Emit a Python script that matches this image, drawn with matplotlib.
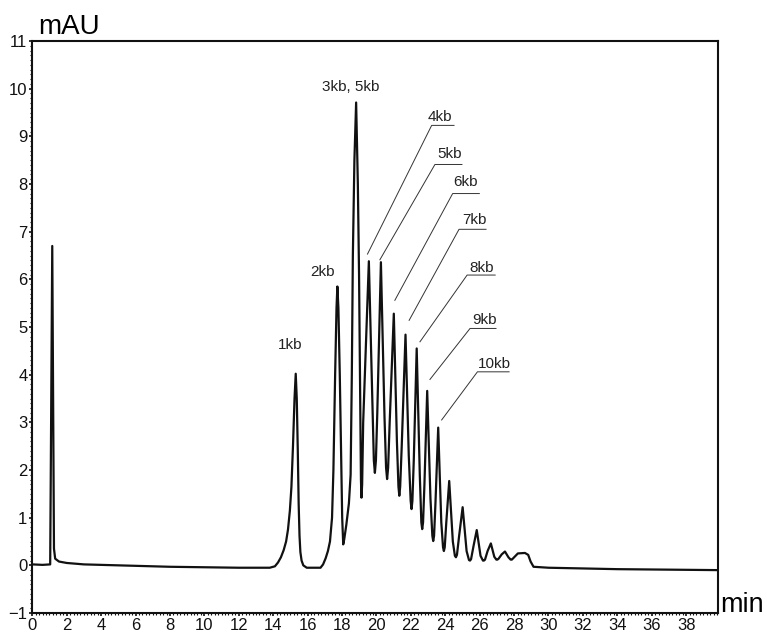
import numpy as np
import matplotlib
matplotlib.use('Agg')
import matplotlib.pyplot as plt
from matplotlib.ticker import MultipleLocator

plt.rcParams['font.family'] = ['Liberation Sans', 'DejaVu Sans']

# Chromatogram trace (min, mAU)
time_min = [0.0, 0.6, 1.04, 1.16, 1.26, 1.33, 1.55, 2.0, 3.0, 5.0, 8.0, 12.0,
            # 1kb
            13.8, 14.1, 14.28, 14.45, 14.61, 14.75, 14.86, 14.97, 15.06, 15.15, 15.24,
            15.31, 15.37, 15.43, 15.48, 15.53, 15.58, 15.65, 15.75, 15.95,
            # 2kb
            16.75, 16.90, 17.05, 17.18, 17.30, 17.42, 17.50, 17.60, 17.68, 17.73,
            17.79, 17.87, 17.96, 18.01, 18.07, 18.13, 18.25, 18.40,
            # 3kb, 5kb
            18.50, 18.57, 18.63, 18.72, 18.82, 18.92, 18.99, 19.06, 19.10, 19.13,
            19.17, 19.23,
            # 4kb .. 10kb and the smaller ladder peaks
            19.56, 19.77, 19.85, 19.91, 19.97, 20.05,
            20.26, 20.47, 20.56, 20.62, 20.68, 20.77,
            21.01, 21.19, 21.28, 21.33, 21.38, 21.47,
            21.69, 21.88, 21.99, 22.04, 22.09, 22.17,
            22.34, 22.52, 22.61, 22.66, 22.71, 22.79,
            22.95, 23.14, 23.25, 23.30, 23.35, 23.43,
            23.59, 23.77, 23.87, 23.92, 23.97, 24.06,
            24.23, 24.44, 24.56, 24.62, 24.68, 24.80,
            25.01, 25.24, 25.38, 25.44, 25.50, 25.64,
            25.83, 26.05, 26.19, 26.25, 26.31, 26.46,
            26.65, 26.85, 26.97, 27.03, 27.10, 27.28,
            27.47, 27.67, 27.80, 27.87, 27.95,
            28.22, 28.63, 28.82, 28.96, 29.13,
            30.0, 34.0, 39.8]
absorbance = [0.02, 0.01, 0.02, 6.70, 0.35, 0.14, 0.08, 0.05, 0.02, 0.0, -0.03, -0.05,
              -0.05, -0.02, 0.06, 0.17, 0.32, 0.50, 0.75, 1.15, 1.65, 2.50, 3.50,
              4.02, 3.50, 2.40, 1.30, 0.62, 0.28, 0.10, 0.0, -0.05,
              -0.05, 0.02, 0.15, 0.30, 0.50, 1.00, 2.00, 4.00, 5.40, 5.85,
              5.40, 4.00, 2.00, 1.00, 0.44, 0.55, 0.85, 1.30,
              1.90, 4.00, 6.50, 8.50, 9.71, 8.00, 6.09, 3.20, 1.80, 1.42,
              1.70, 3.00,
              6.38, 3.30, 2.20, 1.94, 2.20, 3.20,
              6.36, 3.10, 2.05, 1.81, 2.05, 3.00,
              5.28, 2.60, 1.65, 1.46, 1.65, 2.50,
              4.84, 2.30, 1.35, 1.18, 1.35, 2.20,
              4.55, 1.90, 0.90, 0.76, 0.90, 1.70,
              3.66, 1.40, 0.62, 0.51, 0.62, 1.30,
              2.89, 0.90, 0.38, 0.30, 0.38, 0.90,
              1.77, 0.50, 0.20, 0.17, 0.22, 0.60,
              1.22, 0.30, 0.11, 0.10, 0.13, 0.40,
              0.74, 0.20, 0.10, 0.10, 0.12, 0.30,
              0.46, 0.18, 0.12, 0.12, 0.14, 0.23,
              0.29, 0.17, 0.12, 0.12, 0.15,
              0.25, 0.26, 0.22, 0.08, -0.03,
              -0.05, -0.08, -0.10]

# labels written straight above their peaks
top_labels = ['1kb', '2kb', '3kb, 5kb']
top_label_t = [14.96, 16.85, 18.48]
top_label_y = [4.53, 6.06, 9.95]

# labels with leader lines: tip near peak -> elbow -> end of underline
lead_labels = ['4kb', '5kb', '6kb', '7kb', '8kb', '9kb', '10kb']
lead_tip = [(19.48, 6.53), (20.20, 6.41), (21.07, 5.56), (21.90, 5.14),
            (22.53, 4.69), (23.11, 3.90), (23.79, 3.05)]
lead_elbow = [(23.21, 9.23), (23.40, 8.41), (24.43, 7.80), (24.80, 7.05),
              (25.27, 6.09), (25.44, 4.97), (25.87, 4.06)]
lead_end_t = [24.51, 24.97, 25.98, 26.37, 26.90, 26.95, 27.71]
lead_text_t = [22.99, 23.54, 24.47, 24.96, 25.40, 25.54, 25.89]
lead_text_y = [9.33, 8.55, 7.95, 7.16, 6.16, 5.06, 4.14]

x_ticks = np.arange(0, 39, 2)
y_ticks = np.arange(-1, 12, 1)


def plot_chromatogram():
    fig = plt.figure(figsize=(7.67, 6.34), dpi=100)
    ax = fig.add_axes([0.0421, 0.0331, 0.894, 0.9022])

    ax.plot(time_min, absorbance, color='#111111', lw=1.6, solid_joinstyle='round')

    for lab, t, y in zip(top_labels, top_label_t, top_label_y):
        ax.text(t, y, lab, ha='center', va='baseline', fontsize=11, color='#222222')

    for i, lab in enumerate(lead_labels):
        tip = lead_tip[i]
        elbow = lead_elbow[i]
        ax.plot([tip[0], elbow[0], lead_end_t[i]], [tip[1], elbow[1], elbow[1]],
                color='#333333', lw=0.7)
        ax.text(lead_text_t[i], lead_text_y[i], lab, ha='left', va='baseline',
                fontsize=11, color='#222222')

    ax.set_xlim(0, 39.85)
    ax.set_ylim(-1, 11)
    ax.set_xticks(x_ticks)
    ax.set_yticks(y_ticks)
    ax.xaxis.set_minor_locator(MultipleLocator(0.2))
    ax.yaxis.set_minor_locator(MultipleLocator(0.1))
    ax.tick_params(which='major', direction='out', length=2.5, width=1.2,
                   labelsize=12, pad=1, colors='#111111')
    ax.tick_params(which='minor', direction='out', length=1.3, width=0.8, colors='#111111')
    for s in ax.spines.values():
        s.set_linewidth(1.5)
        s.set_color('#111111')

    fig.text(38 / 767, 1 - 33.5 / 634, 'mAU', fontsize=20, va='baseline', ha='left')
    fig.text(720 / 767, 1 - 612 / 634, 'min', fontsize=19.5, va='baseline', ha='left')

    fig.savefig('out.png', dpi=100)


if __name__ == '__main__':
    plot_chromatogram()
